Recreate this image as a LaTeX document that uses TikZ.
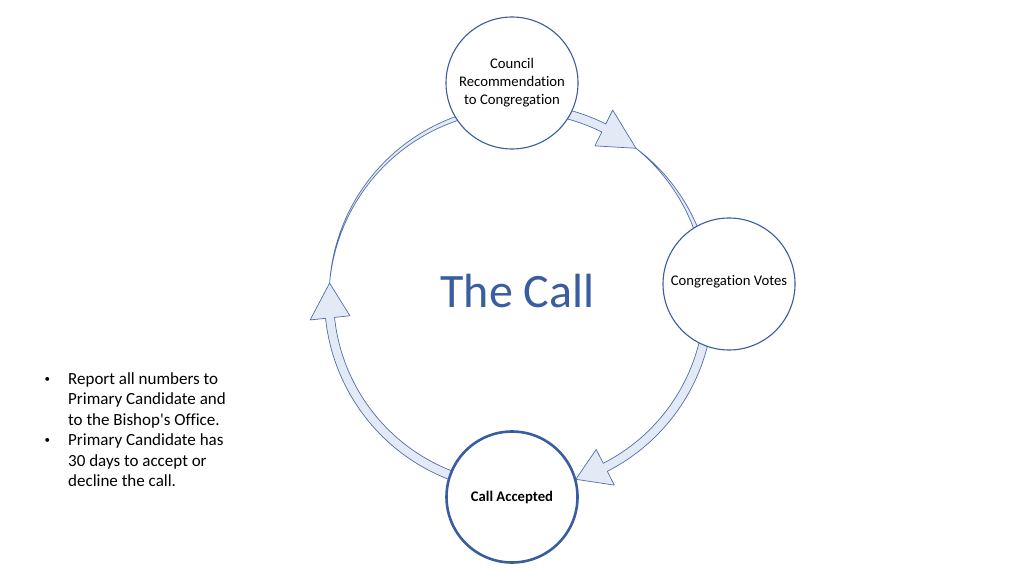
\documentclass[tikz,border=0pt]{standalone}
\usepackage{fontspec}
\setmainfont{Carlito}[Ligatures={NoCommon}]
\newfontfamily\notefont{Carlito}[Ligatures={NoCommon}]
\definecolor{callblue}{HTML}{3A5DA0}
\definecolor{arrowfill}{HTML}{E4EAF5}
\definecolor{arrowline}{HTML}{4F6DAE}

\begin{document}
\begin{tikzpicture}[
    x=1pt, y=1pt,
    stage/.style={circle, draw=callblue, line width=1.1pt, fill=white,
                  minimum size=132pt, inner sep=0pt, align=center,
                  font=\fontsize{14.7}{18}\selectfont},
    cyclearrow/.style={fill=arrowfill, draw=arrowline, line width=0.7pt,
                 line join=round},
    note/.style={font=\notefont\fontsize{17}{20.5}\selectfont,
                 anchor=base west, inner sep=0pt},
]

    \fill[white] (0,0) rectangle (1024,576);
    \useasboundingbox (0,0) rectangle (1024,576);

    % arrows round the hub, drawn under the circles
    \coordinate (hub) at (519,278);
    \begin{scope}[shift={(hub)}]
        % Call Accepted -> Council
        \draw[cyclearrow] (255:194.5) arc[start angle=255, end angle=186, radius=194.5]
            -- (186:210) -- (175.5:190) -- (186:170) -- (186:185.5)
            arc[start angle=186, end angle=255, radius=185.5] -- cycle;
        \draw[cyclearrow] plot[domain=100:175.5, samples=30] (\x:{190+2.5*(175.5-\x)/75.5})
            -- plot[domain=175.5:100, samples=30] (\x:{190-2.5*(175.5-\x)/75.5})
            -- cycle;
        % Council -> Congregation Votes
        \draw[cyclearrow] (85:194.5) arc[start angle=85, end angle=63.5, radius=194.5]
            -- (63.5:210) -- (52:190) -- (63.5:170) -- (63.5:185.5)
            arc[start angle=63.5, end angle=85, radius=185.5] -- cycle;
        \draw[cyclearrow] plot[domain=15:52, samples=30] (\x:{190+2.5*(\x-52)/(15-52)})
            -- plot[domain=52:15, samples=30] (\x:{190-2.5*(\x-52)/(15-52)})
            -- cycle;
        % Congregation Votes -> Call Accepted
        \draw[cyclearrow] (-8:194.5) arc[start angle=-8, end angle=-63, radius=194.5]
            -- (-63:210) -- (-72.6:190) -- (-63:170) -- (-63:185.5)
            arc[start angle=-63, end angle=-8, radius=185.5] -- cycle;
    \end{scope}

    \node[stage] (council) at (512,493) {Council\\Recommendation\\to Congregation};
    \node[stage] (votes) at (729,292) {\raisebox{8pt}{Congregation Votes}};
    \node[stage, line width=2.6pt, minimum size=131pt] (accepted) at (512,79)
        {\bfseries Call Accepted};

    \node[font=\fontsize{48}{56}\selectfont, text=callblue, anchor=base]
        (title) at (517.5,268) {The Call};

    \node[note] (steps) at (44.5,192) {%
        \begin{tabular}[t]{@{}p{23.5pt}@{}l@{}}
        \raisebox{2pt}{\fontsize{11}{11}\selectfont\textbullet} & Report all numbers to\\
                    & Primary Candidate and\\
                    & to the Bishop's Office.\\
        \raisebox{2pt}{\fontsize{11}{11}\selectfont\textbullet} & Primary Candidate has\\
                    & 30 days to accept or\\
                    & decline the call.
        \end{tabular}};

\end{tikzpicture}
\end{document}
